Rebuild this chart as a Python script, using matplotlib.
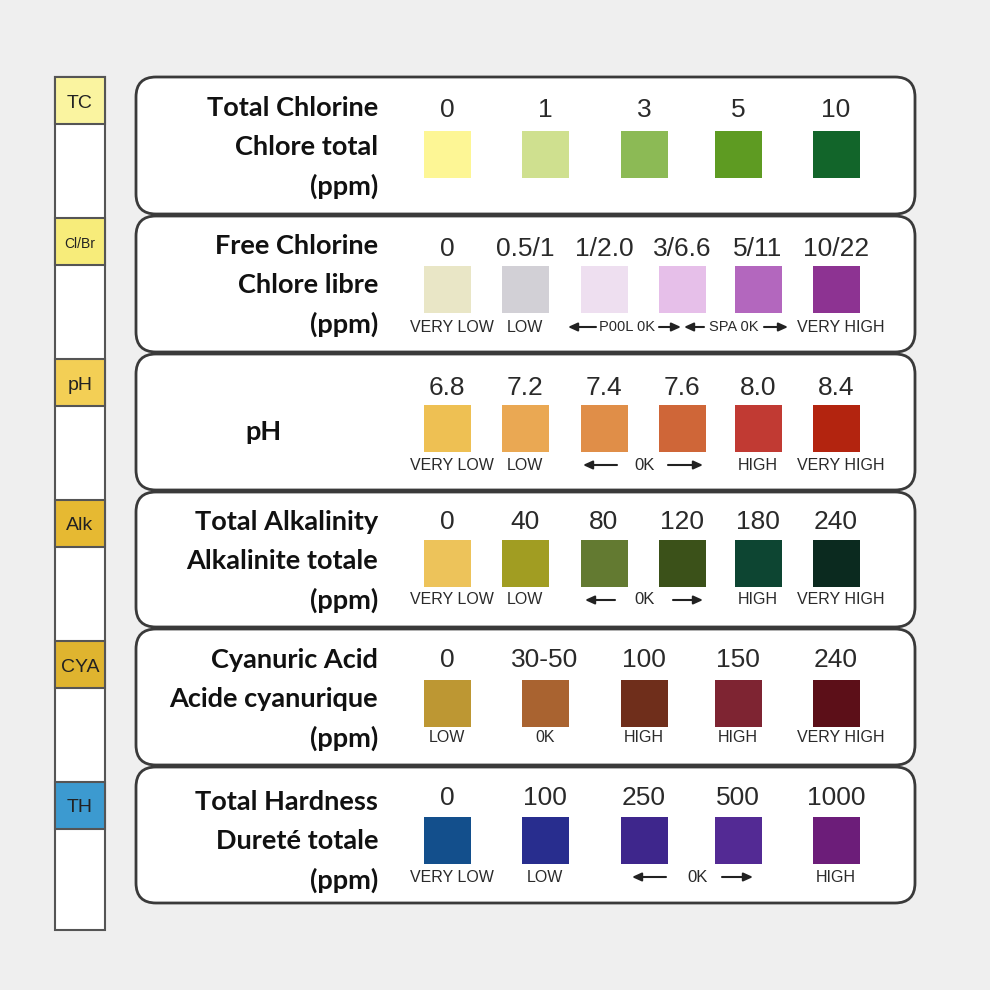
import matplotlib
matplotlib.use('Agg')
import matplotlib.pyplot as plt
from matplotlib.patches import Rectangle, FancyBboxPatch

# strip pads
pad_names = ['TC', 'Cl/Br', 'pH', 'Alk', 'CYA', 'TH']
pad_colors = ['#faf4a0', '#f7ec7a', '#f3cf55', '#e6b932', '#dfb42f', '#3c9ad0']

titles = [['Total Chlorine', 'Chlore total', '(ppm)'],
          ['Free Chlorine', 'Chlore libre', '(ppm)'],
          ['pH'],
          ['Total Alkalinity', 'Alkalinite totale', '(ppm)'],
          ['Cyanuric Acid', 'Acide cyanurique', '(ppm)'],
          ['Total Hardness', 'Dureté totale', '(ppm)']]

tc_values = ['0', '1', '3', '5', '10']
tc_colors = ['#fdf695', '#cfe08f', '#8cba55', '#5e9b22', '#12652a']
tc_notes = ['', '', '', '', '']

fc_values = ['0', '0.5/1', '1/2.0', '3/6.6', '5/11', '10/22']
fc_colors = ['#e9e6c6', '#d2d0d6', '#eedff0', '#e6bfe9', '#b367be', '#8d3392']
fc_notes = ['VERY LOW', 'LOW', '', '', '', 'VERY HIGH']

ph_values = ['6.8', '7.2', '7.4', '7.6', '8.0', '8.4']
ph_colors = ['#eec053', '#eaa853', '#e08e48', '#cf6638', '#c13a33', '#b3240f']
ph_notes = ['VERY LOW', 'LOW', '', '', 'HIGH', 'VERY HIGH']

alk_values = ['0', '40', '80', '120', '180', '240']
alk_colors = ['#edc35a', '#a19d22', '#637a31', '#3b5119', '#0d4532', '#0b2a1f']
alk_notes = ['VERY LOW', 'LOW', '', '', 'HIGH', 'VERY HIGH']

cya_values = ['0', '30-50', '100', '150', '240']
cya_colors = ['#bd9733', '#a96330', '#6f2e1b', '#7e2432', '#5c0f18']
cya_notes = ['LOW', '0K', 'HIGH', 'HIGH', 'VERY HIGH']

th_values = ['0', '100', '250', '500', '1000']
th_colors = ['#134f8c', '#282d8e', '#3e268c', '#532a94', '#6c1d79']
th_notes = ['VERY LOW', 'LOW', '', '', 'HIGH']

rows = [(tc_values, tc_colors, tc_notes),
        (fc_values, fc_colors, fc_notes),
        (ph_values, ph_colors, ph_notes),
        (alk_values, alk_colors, alk_notes),
        (cya_values, cya_colors, cya_notes),
        (th_values, th_colors, th_notes)]

# layout (pixels)
panels = [(77, 214), (216, 352), (354, 490), (492, 627), (629, 765), (767, 903)]
x5 = [447, 545, 644, 738, 836]
x6 = [447, 525, 604, 682, 758, 836]
num_y = [110, 249, 388, 522, 660, 798]
sq_top = [131, 266, 405, 540, 680, 817]
note_y = [0, 327, 465, 600, 738, 877]
title_y = [108, 246, 432, 522, 660, 802]
pad_top = [77, 218, 359, 500, 641, 782]
# ok-range arrows: (y, left arrow, text, x text, right arrow, size)
ok_marks = [(327, (568, 596), 'P00L 0K', 627, (659, 681), 10.5),
            (327, (684, 704), 'SPA 0K', 734, (764, 788), 10.5),
            (465, (583, 617), '0K', 645, (668, 703), 12),
            (600, (585, 615), '0K', 645, (673, 703), 12),
            (877, (632, 666), '0K', 698, (722, 753), 12)]

fig = plt.figure(figsize=(9.9, 9.9), dpi=100)
fig.patch.set_facecolor('#efefef')
ax = fig.add_axes([0, 0, 1, 1])
ax.set_xlim(0, 990)
ax.set_ylim(990, 0)
ax.axis('off')

bold_font = ['Lato', 'DejaVu Sans']
num_font = ['Liberation Sans', 'DejaVu Sans']
note_font = ['Liberation Sans', 'DejaVu Sans']

# test strip
ax.add_patch(Rectangle((55, 77), 50, 853, facecolor='white', edgecolor='#555555', lw=1.5))
for i, name in enumerate(pad_names):
    ax.add_patch(Rectangle((55, pad_top[i]), 50, 47, facecolor=pad_colors[i],
                           edgecolor='#555555', lw=1.5))
    fs = 10 if name == 'Cl/Br' else 14
    ax.text(80, pad_top[i] + 26, name, ha='center', va='center', fontsize=fs,
            family=num_font, color='#222222')

for i, (top, bot) in enumerate(panels):
    ax.add_patch(FancyBboxPatch((136, top), 779, bot - top,
                                boxstyle='round,pad=0,rounding_size=20',
                                facecolor='white', edgecolor='#3a3a3a', lw=2))
    lines = titles[i]
    if len(lines) == 1:
        ax.text(263, title_y[i], lines[0], ha='center', va='center', fontsize=19.5,
                fontweight='bold', family=bold_font, color='#111111')
    else:
        for k, s in enumerate(lines):
            ax.text(378, title_y[i] + 39 * k, s, ha='right', va='center', fontsize=19.5,
                    fontweight='bold', family=bold_font, color='#111111')

    values, colors, notes = rows[i]
    xs = x5 if len(values) == 5 else x6
    for x, v, c, n in zip(xs, values, colors, notes):
        ax.add_patch(Rectangle((x - 23.5, sq_top[i]), 47, 47, facecolor=c, edgecolor='none'))
        ax.text(x, num_y[i], v, ha='center', va='center', fontsize=19,
                family=num_font, color='#2a2a2a')
        if n:
            ax.text(x + (5 if len(n) > 6 else 0), note_y[i], n, ha='center', va='center',
                    fontsize=11.5, family=note_font, color='#2a2a2a')

arrow = dict(arrowstyle='-|>,head_length=0.55,head_width=0.25', color='#222222',
             lw=1.5, shrinkA=0, shrinkB=0)
for y, (a0, a1), s, xt, (b0, b1), fs in ok_marks:
    ax.annotate('', xy=(a0, y), xytext=(a1, y), arrowprops=arrow)
    ax.annotate('', xy=(b1, y), xytext=(b0, y), arrowprops=arrow)
    ax.text(xt, y, s, ha='center', va='center', fontsize=fs, family=note_font,
            color='#2a2a2a')

fig.savefig('out.png', dpi=100, facecolor=fig.get_facecolor())
